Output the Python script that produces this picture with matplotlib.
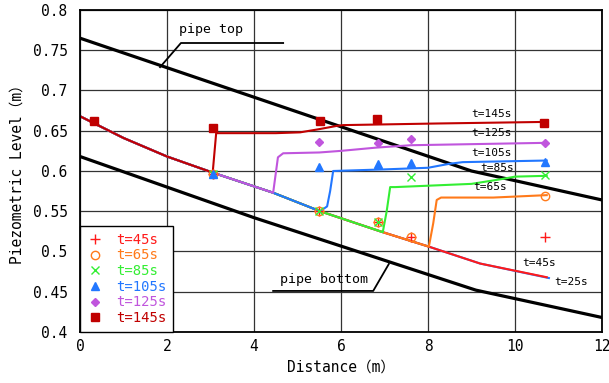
import matplotlib
matplotlib.use('Agg')
import matplotlib.pyplot as plt

plt.rcParams['font.family'] = ['DejaVu Sans Mono', 'Noto Sans CJK JP']

# pipe crown / invert
pipe_top_x = [0, 9.0, 12]
pipe_top_y = [0.765, 0.600, 0.564]
pipe_bot_x = [0, 4.0, 9.1, 12]
pipe_bot_y = [0.618, 0.542, 0.452, 0.418]

# steady part shared by all curves
base_x = [0, 1, 2, 3.05, 4.44, 5.52, 6.96, 8.02, 9.2, 10.73]
base_y = [0.668, 0.641, 0.618, 0.598, 0.573, 0.550, 0.524, 0.506, 0.485, 0.468]

t25_x = base_x[:-1] + [10.78]
t25_y = base_y[:-1] + [0.467]
t45_x = base_x
t45_y = base_y
t65_x = base_x[:8] + [8.12, 8.2, 8.3, 9.5, 10.73]
t65_y = base_y[:8] + [0.535, 0.564, 0.567, 0.567, 0.570]
t85_x = base_x[:7] + [7.05, 7.13, 7.25, 9.0, 9.7, 10.0, 10.73]
t85_y = base_y[:7] + [0.550, 0.580, 0.580, 0.584, 0.590, 0.593, 0.594]
t105_x = base_x[:6] + [5.68, 5.75, 5.82, 7.0, 8.0, 8.5, 8.8, 10.73]
t105_y = base_y[:6] + [0.556, 0.575, 0.600, 0.602, 0.604, 0.609, 0.611, 0.613]
t125_x = base_x[:5] + [4.55, 4.67, 5.5, 6.0, 6.8, 7.6, 10.73]
t125_y = base_y[:5] + [0.617, 0.622, 0.623, 0.625, 0.629, 0.632, 0.635]
t145_x = base_x[:4] + [3.13, 4.5, 5.06, 5.5, 5.9, 6.05, 8.2, 10.73]
t145_y = base_y[:4] + [0.647, 0.647, 0.648, 0.652, 0.656, 0.657, 0.659, 0.661]

# measured points
m_x = [3.05, 5.5, 6.85, 7.6, 10.7]
m45 = [0.596, 0.550, 0.537, 0.518, 0.518]
m65 = [0.596, 0.550, 0.537, 0.518, 0.569]
m85 = [0.596, 0.550, 0.537, 0.593, 0.595]
m105 = [0.596, 0.605, 0.609, 0.610, 0.611]
m125_x = [5.5, 6.85, 7.6, 10.7]
m125 = [0.636, 0.635, 0.640, 0.635]
m145_x = [0.32, 3.06, 5.52, 6.83, 10.67]
m145 = [0.662, 0.653, 0.662, 0.665, 0.660]

c45, c65, c85 = '#ff1a1a', '#ff7a1a', '#33ee33'
c105, c125, c145 = '#2277ff', '#c055dd', '#c00000'

fig = plt.figure(figsize=(6.09, 3.83), dpi=100)
ax = fig.add_axes([0.1314, 0.1332, 0.8571, 0.8407])

ax.plot(pipe_top_x, pipe_top_y, color='black', lw=2.3)
ax.plot(pipe_bot_x, pipe_bot_y, color='black', lw=2.3)

lw = 1.5
ax.plot(t25_x, t25_y, color=c105, lw=lw)
ax.plot(t45_x, t45_y, color=c45, lw=lw)
ax.plot(t65_x, t65_y, color=c65, lw=lw)
ax.plot(t85_x, t85_y, color=c85, lw=lw)
ax.plot(t105_x, t105_y, color=c105, lw=lw)
ax.plot(t125_x, t125_y, color=c125, lw=lw)
ax.plot(t145_x, t145_y, color=c145, lw=lw)

ax.plot(m_x, m45, ls='none', marker='+', ms=7.5, mew=1.0, color=c45, label='t=45s')
ax.plot(m_x, m65, ls='none', marker='o', ms=6, mew=1.0, mfc='none', mec=c65, label='t=65s')
ax.plot(m_x, m85, ls='none', marker='x', ms=6, mew=1.0, color=c85, label='t=85s')
ax.plot(m_x, m105, ls='none', marker='^', ms=5.5, color=c105, label='t=105s')
ax.plot(m125_x, m125, ls='none', marker='D', ms=4.5, color=c125, label='t=125s')
ax.plot(m145_x, m145, ls='none', marker='s', ms=6, color=c145, label='t=145s')

# curve labels
fs_t = 8
ax.text(9.47, 0.671, 't=145s', fontsize=fs_t, ha='center', va='center')
ax.text(9.47, 0.647, 't=125s', fontsize=fs_t, ha='center', va='center')
ax.text(9.47, 0.622, 't=105s', fontsize=fs_t, ha='center', va='center')
ax.text(9.59, 0.604, 't=85s', fontsize=fs_t, ha='center', va='center')
ax.text(9.43, 0.580, 't=65s', fontsize=fs_t, ha='center', va='center')
ax.text(10.56, 0.486, 't=45s', fontsize=fs_t, ha='center', va='center')
ax.text(11.29, 0.462, 't=25s', fontsize=fs_t, ha='center', va='center')

# pipe annotations
ax.plot([1.84, 2.32, 4.67], [0.729, 0.759, 0.759], color='black', lw=1.3)
ax.text(3.01, 0.776, 'pipe top', fontsize=9.5, ha='center', va='center')
ax.plot([4.44, 6.74, 7.10], [0.451, 0.451, 0.4845], color='black', lw=1.3)
ax.text(5.6, 0.465, 'pipe bottom', fontsize=9.5, ha='center', va='center')

ax.set_xlim(0, 12)
ax.set_ylim(0.4, 0.8)
ax.set_xticks(range(0, 13, 2))
ax.set_yticks([0.4, 0.45, 0.5, 0.55, 0.6, 0.65, 0.7, 0.75, 0.8])
ax.set_yticklabels(['0.4', '0.45', '0.5', '0.55', '0.6', '0.65', '0.7', '0.75', '0.8'])
ax.tick_params(axis='both', length=0, labelsize=10.5)
ax.tick_params(axis='y', pad=9)
ax.tick_params(axis='x', pad=5)
ax.grid(True, color='#333333', lw=0.9)
ax.set_axisbelow(True)
for s in ax.spines.values():
    s.set_linewidth(1.3)

ax.set_xlabel('Distance（m）', fontsize=10.5, labelpad=4)
ax.set_ylabel('Piezometric Level（m）', fontsize=10.5, labelpad=6)

leg = ax.legend(loc='lower left', borderaxespad=0, fancybox=False, framealpha=1,
                edgecolor='black', fontsize=10, handlelength=1.2, handletextpad=0.9,
                labelspacing=0.12, borderpad=0.5)
leg.get_frame().set_linewidth(1.0)
for txt, c in zip(leg.get_texts(), [c45, c65, c85, c105, c125, c145]):
    txt.set_color(c)

fig.savefig('out.png', dpi=100)
